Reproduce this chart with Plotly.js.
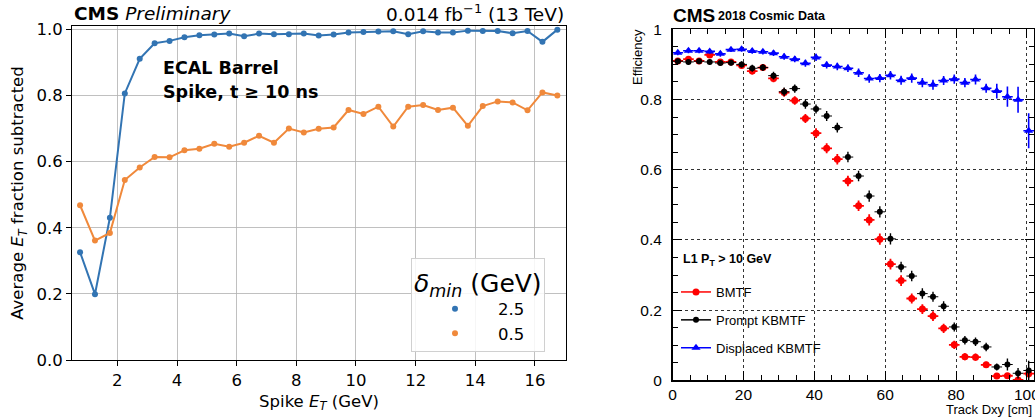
<!DOCTYPE html>
<html><head><meta charset="utf-8">
<script src="https://cdn.plot.ly/plotly-3.0.1.min.js"></script>
<style>body{margin:0;padding:0;background:#fff}#chart{width:1035px;height:418px}</style>
</head><body><div id="chart"></div>
<script>
// ---- Left panel: average ET fraction subtracted vs spike ET ----
const spikeEt = [0.75,1.25,1.75,2.25,2.75,3.25,3.75,4.25,4.75,5.25,5.75,6.25,6.75,7.25,7.75,8.25,8.75,9.25,9.75,10.25,10.75,11.25,11.75,12.25,12.75,13.25,13.75,14.25,14.75,15.25,15.75,16.25,16.75];
const fracDelta25 = [0.326,0.199,0.430,0.806,0.911,0.958,0.965,0.976,0.982,0.984,0.987,0.979,0.987,0.985,0.985,0.987,0.981,0.984,0.990,0.992,0.993,0.994,0.985,0.994,0.990,0.990,0.996,0.995,0.995,0.988,0.995,0.962,0.999];
const fracDelta05 = [0.468,0.361,0.384,0.544,0.582,0.614,0.613,0.634,0.639,0.654,0.645,0.657,0.678,0.657,0.700,0.688,0.699,0.703,0.756,0.744,0.766,0.706,0.766,0.771,0.756,0.763,0.708,0.768,0.782,0.779,0.755,0.809,0.800];
const leftSeriesNames = ['2.5','0.5'];
const leftXTicks = [2,4,6,8,10,12,14,16];
const leftYTicks = [0,0.2,0.4,0.6,0.8,1.0];
const leftYTickText = ['0.0','0.2','0.4','0.6','0.8','1.0'];

// ---- Right panel: L1 efficiency vs track Dxy ----
const dxyCenters = [1.5,4.5,7.5,10.5,13.5,16.5,19.5,22.5,25.5,28.5,31.5,34.5,37.5,40.5,43.5,46.5,49.5,52.5,55.5,58.5,61.5,64.5,67.5,70.5,73.5,76.5,79.5,82.5,85.5,88.5,91.5,94.5,97.5,100.5];
const effBmtf = [0.910,0.915,0.910,0.927,0.907,0.907,0.897,0.881,0.891,0.860,0.820,0.797,0.746,0.704,0.661,0.630,0.568,0.497,0.457,0.402,0.331,0.284,0.233,0.203,0.183,0.148,0.101,0.067,0.066,0.044,0.012,0.013,0.001,0.019];
const errBmtf = [0.008,0.008,0.008,0.008,0.008,0.008,0.009,0.010,0.010,0.011,0.012,0.012,0.013,0.014,0.014,0.015,0.015,0.015,0.016,0.016,0.015,0.015,0.014,0.014,0.014,0.013,0.012,0.010,0.010,0.009,0.007,0.008,0.005,0.012];
const effPrompt = [0.909,0.907,0.909,0.907,0.904,0.905,0.900,0.889,0.891,0.868,0.822,0.831,0.787,0.773,0.753,0.720,0.636,0.582,0.525,0.480,0.403,0.323,0.297,0.247,0.238,0.211,0.152,0.114,0.110,0.095,0.038,0.045,0.020,0.028];
const errPrompt = [0.008,0.008,0.008,0.008,0.008,0.008,0.009,0.010,0.010,0.011,0.012,0.012,0.013,0.013,0.014,0.014,0.015,0.015,0.016,0.016,0.016,0.015,0.015,0.015,0.014,0.014,0.013,0.012,0.012,0.012,0.010,0.017,0.015,0.028];
const effDisplaced = [0.933,0.939,0.939,0.937,0.930,0.942,0.943,0.938,0.936,0.932,0.922,0.915,0.903,0.920,0.898,0.894,0.889,0.876,0.860,0.861,0.869,0.855,0.861,0.848,0.842,0.854,0.858,0.848,0.857,0.832,0.824,0.808,0.799,0.711];
const errDisplaced = [0.007,0.007,0.007,0.007,0.008,0.007,0.007,0.008,0.008,0.008,0.009,0.009,0.010,0.010,0.010,0.011,0.011,0.012,0.012,0.012,0.012,0.013,0.013,0.013,0.014,0.013,0.013,0.013,0.014,0.013,0.021,0.029,0.037,0.050];
const rightSeriesNames = ['BMTF','Prompt KBMTF','Displaced KBMTF'];
const rightXTicks = [0,20,40,60,80,100];
const rightYTicks = [0,0.2,0.4,0.6,0.8,1];

const BLUE = '#3274b3', ORANGE = '#f0893b';
const DV = 'DejaVu Sans', LS = 'Liberation Sans, Arial, sans-serif';

const traces = [
  {x: spikeEt, y: fracDelta25, xaxis:'x', yaxis:'y', mode:'lines+markers', showlegend:false,
   line:{color:BLUE, width:2}, marker:{color:BLUE, size:6}},
  {x: spikeEt, y: fracDelta05, xaxis:'x', yaxis:'y', mode:'lines+markers', showlegend:false,
   line:{color:ORANGE, width:2}, marker:{color:ORANGE, size:6}},
  // legend entries (left)
  {x:[null], y:[null], xaxis:'x', yaxis:'y', mode:'markers', name:leftSeriesNames[0], legend:'legend',
   marker:{color:BLUE, size:6}},
  {x:[null], y:[null], xaxis:'x', yaxis:'y', mode:'markers', name:leftSeriesNames[1], legend:'legend',
   marker:{color:ORANGE, size:6}},
  // right data
  {x: dxyCenters, y: effBmtf, xaxis:'x2', yaxis:'y2', mode:'markers', showlegend:false,
   marker:{color:'#ff0000', size:7, symbol:'circle'},
   error_y:{type:'data', array:errBmtf, color:'#ff0000', thickness:1.8, width:0},
   error_x:{type:'constant', value:1.5, color:'#ff0000', thickness:1.8, width:0}},
  {x: dxyCenters, y: effDisplaced, xaxis:'x2', yaxis:'y2', mode:'markers', showlegend:false,
   marker:{color:'#0000ff', size:8, symbol:'triangle-up'},
   error_y:{type:'data', array:errDisplaced, color:'#0000ff', thickness:1.6, width:0},
   error_x:{type:'constant', value:1.5, color:'#0000ff', thickness:1.6, width:0}},
  {x: dxyCenters, y: effPrompt, xaxis:'x2', yaxis:'y2', mode:'markers', showlegend:false,
   marker:{color:'#000000', size:6, symbol:'circle'},
   error_y:{type:'data', array:errPrompt, color:'#000000', thickness:1.4, width:0},
   error_x:{type:'constant', value:1.5, color:'#000000', thickness:1, width:0}},
  // legend entries (right)
  {x:[null], y:[null], xaxis:'x2', yaxis:'y2', mode:'lines+markers', name:rightSeriesNames[0], legend:'legend2', legendgroup:'a',
   line:{color:'#ff0000', width:1.5}, marker:{color:'#ff0000', size:7}},
  {x:[null], y:[null], xaxis:'x2', yaxis:'y2', mode:'lines+markers', name:rightSeriesNames[1], legend:'legend2', legendgroup:'b',
   line:{color:'#000000', width:1.5}, marker:{color:'#000000', size:6}},
  {x:[null], y:[null], xaxis:'x2', yaxis:'y2', mode:'lines+markers', name:rightSeriesNames[2], legend:'legend2', legendgroup:'c',
   line:{color:'#0000ff', width:1.5}, marker:{color:'#0000ff', size:8, symbol:'triangle-up'}}
];

const W = 962, H = 355; // paper size in px (l=72, t=26)
const px = v => (v - 72) / W;
const py = v => (381 - v) / H;

const layout = {
  width:1035, height:418,
  margin:{l:72, r:1, t:26, b:37},
  paper_bgcolor:'#fff', plot_bgcolor:'#fff',
  showlegend:true,
  xaxis:{domain:[0, px(566)], range:[0.48, 17.04], tickvals:leftXTicks, showgrid:true, gridcolor:'#b0b0b0', gridwidth:0.8,
    showline:true, linecolor:'#000', linewidth:1, mirror:true, ticks:'outside', ticklen:5, tickcolor:'#000',
    tickfont:{family:DV, size:16.5, color:'#000'}, zeroline:false,
    title:{text:'Spike <i>E</i><sub><i>T</i></sub> (GeV)', font:{family:DV, size:16.5, color:'#000'}, standoff:6}},
  yaxis:{domain:[py(360), 1], range:[0, 1.01], tickvals:leftYTicks, ticktext:leftYTickText, showgrid:true, gridcolor:'#b0b0b0', gridwidth:0.8,
    showline:true, linecolor:'#000', linewidth:1, mirror:true, ticks:'outside', ticklen:5, tickcolor:'#000',
    tickfont:{family:DV, size:16.5, color:'#000'}, zeroline:false,
    title:{text:'Average <i>E</i><sub><i>T</i></sub> fraction subtracted', font:{family:DV, size:16.5, color:'#000'}, standoff:8}},
  xaxis2:{domain:[px(672.5), 1], range:[0, 102], anchor:'y2', tickvals:rightXTicks, showgrid:true, gridcolor:'#333', griddash:'dot', gridwidth:1,
    showline:true, linecolor:'#000', linewidth:1.5, mirror:'allticks', ticks:'inside', ticklen:9, tickcolor:'#000',
    minor:{dtick:5, ticks:'inside', ticklen:5, tickcolor:'#000', showgrid:false},
    tickfont:{family:LS, size:15.5, color:'#000'}, zeroline:false, ticklabeloverflow:'allow'},
  yaxis2:{domain:[py(380.3), py(29.3)], range:[0, 1], anchor:'x2', tickvals:rightYTicks, showgrid:true, gridcolor:'#333', griddash:'dot', gridwidth:1,
    showline:true, linecolor:'#000', linewidth:1.5, mirror:'allticks', ticks:'inside', ticklen:9, tickcolor:'#000',
    minor:{dtick:0.05, ticks:'inside', ticklen:5, tickcolor:'#000', showgrid:false},
    tickfont:{family:LS, size:15.5, color:'#000'}, zeroline:false, ticklabelstandoff:6},
  legend:{x:px(411), y:py(258), xanchor:'left', yanchor:'top', bgcolor:'rgba(255,255,255,0.85)', bordercolor:'#d0d0d0', borderwidth:1,
    font:{family:DV, size:16.5, color:'#000'}, itemwidth:76,
    title:{text:'<i>δ<sub>min</sub></i> (GeV)', font:{family:DV, size:25, color:'#000'}}},
  legend2:{x:px(676), y:py(277), xanchor:'left', yanchor:'top', bgcolor:'rgba(0,0,0,0)', borderwidth:0,
    font:{family:LS, size:13, color:'#000'}, tracegroupgap:8},
  annotations:[
    {xref:'paper', yref:'paper', x:px(72), y:py(13), xanchor:'left', yanchor:'middle', showarrow:false,
     text:'<b>CMS</b> <i>Preliminary</i>', font:{family:DV, size:18.5, color:'#000'}},
    {xref:'paper', yref:'paper', x:px(566), y:py(13), xanchor:'right', yanchor:'middle', showarrow:false,
     text:'0.014 fb<sup>−1</sup> (13 TeV)', font:{family:DV, size:18.5, color:'#000'}},
    {xref:'paper', yref:'paper', x:px(161), y:py(68), xanchor:'left', yanchor:'middle', showarrow:false,
     text:'<b>ECAL Barrel</b>', font:{family:DV, size:17.5, color:'#000'}},
    {xref:'paper', yref:'paper', x:px(161), y:py(92), xanchor:'left', yanchor:'middle', showarrow:false,
     text:'<b>Spike, t ≥ 10 ns</b>', font:{family:DV, size:17.5, color:'#000'}},
    {xref:'paper', yref:'paper', x:px(671), y:py(15), xanchor:'left', yanchor:'middle', showarrow:false,
     text:'<b>CMS</b>', font:{family:LS, size:19, color:'#000'}},
    {xref:'paper', yref:'paper', x:px(716), y:py(16), xanchor:'left', yanchor:'middle', showarrow:false,
     text:'<b>2018 Cosmic Data</b>', font:{family:LS, size:12.5, color:'#000'}},
    {xref:'paper', yref:'paper', x:px(637), y:py(27), xanchor:'center', yanchor:'top', textangle:-90, showarrow:false,
     text:'Efficiency', font:{family:LS, size:13, color:'#000'}},
    {xref:'paper', yref:'paper', x:1, y:py(410), xanchor:'right', yanchor:'middle', showarrow:false,
     text:'Track Dxy [cm]', font:{family:LS, size:13, color:'#000'}},
    {xref:'paper', yref:'paper', x:px(681), y:py(260), xanchor:'left', yanchor:'middle', showarrow:false,
     text:'<b>L1 P<sub>T</sub> > 10 GeV</b>', font:{family:LS, size:12.5, color:'#000'}}
  ]
};

Plotly.newPlot('chart', traces, layout, {displayModeBar:false, staticPlot:true});
</script>
</body></html>
